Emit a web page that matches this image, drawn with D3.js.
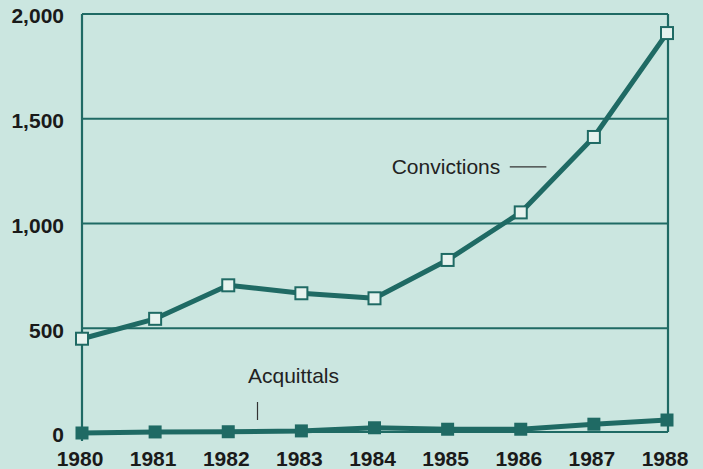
<!DOCTYPE html>
<html>
<head>
<meta charset="utf-8">
<script src="https://cdn.jsdelivr.net/npm/d3@7"></script>
<style>
  html, body { margin: 0; padding: 0; background: #cbe6e0; }
  svg { display: block; }
  text { font-family: "Liberation Sans", Arial, Helvetica, sans-serif; }
</style>
</head>
<body>
<svg id="chart" width="703" height="469"></svg>
<script>
const years = [1980, 1981, 1982, 1983, 1984, 1985, 1986, 1987, 1988];
const convictions = [450, 545, 705, 667, 643, 826, 1053, 1413, 1909];
const acquittals = [0, 5, 6, 10, 25, 18, 18, 42, 62];
const yTicks = [0, 500, 1000, 1500, 2000];
const gridValues = [500, 1000, 1500];

const W = 703, H = 469;
const ink = "#1f6a64";
const svg = d3.select("#chart");

svg.append("rect").attr("width", W).attr("height", H).attr("fill", "#cbe6e0");

const x = d3.scaleLinear().domain([1980, 1988]).range([82, 667]);
const y = d3.scaleLinear().domain([0, 2000]).range([433, 14]);

const x0 = x.range()[0], x1 = x.range()[1] + 1;

// gridlines
svg.append("g").selectAll("line").data(gridValues).join("line")
  .attr("x1", x0).attr("x2", x1)
  .attr("y1", d => y(d)).attr("y2", d => y(d))
  .attr("stroke", ink).attr("stroke-width", 2.2);

// frame: top, right, left, baseline
svg.append("line").attr("x1", x0).attr("x2", x1).attr("y1", y(2000)).attr("y2", y(2000))
  .attr("stroke", ink).attr("stroke-width", 2.2);
svg.append("line").attr("x1", x1).attr("x2", x1).attr("y1", y(2000)).attr("y2", y(0) - 1)
  .attr("stroke", ink).attr("stroke-width", 2.2);
svg.append("line").attr("x1", x0).attr("x2", x0).attr("y1", y(2000)).attr("y2", y(0) + 8)
  .attr("stroke", ink).attr("stroke-width", 2.2);
svg.append("line").attr("x1", x0).attr("x2", x1).attr("y1", y(0) - 1).attr("y2", y(0) - 1)
  .attr("stroke", ink).attr("stroke-width", 2);

// y tick labels
svg.append("g").selectAll("text").data(yTicks).join("text")
  .attr("x", 64).attr("y", d => y(d) + 2)
  .attr("dy", "0.35em")
  .attr("text-anchor", "end")
  .attr("font-size", 21).attr("font-weight", "bold").attr("fill", "#1a1a1a")
  .text(d => d3.format(",")(d));

// x tick labels
svg.append("g").selectAll("text").data(years).join("text")
  .attr("x", d => x(d) - 2).attr("y", 466)
  .attr("text-anchor", "middle")
  .attr("font-size", 21).attr("font-weight", "bold").attr("fill", "#1a1a1a")
  .text(d => d);

const line = d3.line().x((d, i) => x(years[i])).y(d => y(d));

// acquittals
svg.append("path").datum(acquittals).attr("d", line)
  .attr("fill", "none").attr("stroke", ink).attr("stroke-width", 5).attr("stroke-linejoin", "round");
svg.append("g").selectAll("rect").data(acquittals).join("rect")
  .attr("x", (d, i) => x(years[i]) - 6.5).attr("y", d => y(d) - 6.5)
  .attr("width", 13).attr("height", 13)
  .attr("fill", ink);

// convictions
svg.append("path").datum(convictions).attr("d", line)
  .attr("fill", "none").attr("stroke", ink).attr("stroke-width", 5).attr("stroke-linejoin", "round");
svg.append("g").selectAll("rect").data(convictions).join("rect")
  .attr("x", (d, i) => x(years[i]) - 6).attr("y", d => y(d) - 6)
  .attr("width", 12).attr("height", 12)
  .attr("fill", "#e6f3ef").attr("stroke", ink).attr("stroke-width", 2);

// annotations
svg.append("text").attr("x", x(1985.72)).attr("y", y(1236))
  .attr("text-anchor", "end").attr("font-size", 21).attr("fill", "#222")
  .text("Convictions");
svg.append("line").attr("x1", x(1985.85)).attr("x2", x(1986.35))
  .attr("y1", y(1270)).attr("y2", y(1270))
  .attr("stroke", "#333").attr("stroke-width", 1.2);

svg.append("text").attr("x", x(1982.27)).attr("y", y(240))
  .attr("text-anchor", "start").attr("font-size", 21).attr("fill", "#222")
  .text("Acquittals");
svg.append("line").attr("x1", x(1982.4)).attr("x2", x(1982.4))
  .attr("y1", y(148)).attr("y2", y(62))
  .attr("stroke", "#333").attr("stroke-width", 1.2);
</script>
</body>
</html>
